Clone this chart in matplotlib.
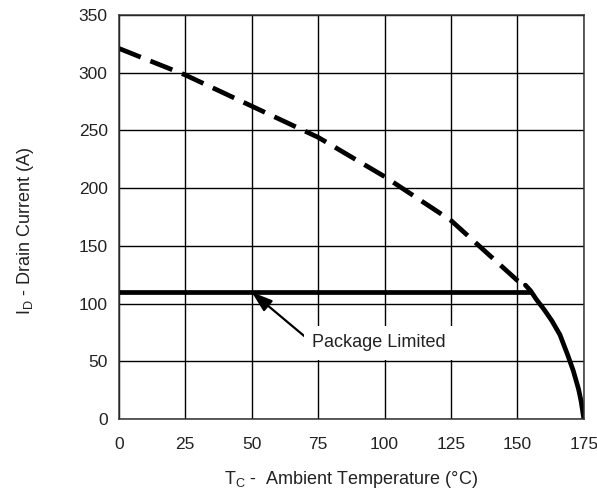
import numpy as np
import matplotlib.pyplot as plt

plt.rcParams['font.family'] = ['Liberation Sans', 'DejaVu Sans']
plt.rcParams['mathtext.fontset'] = 'custom'
plt.rcParams['mathtext.rm'] = 'Liberation Sans'

# silicon limited (dashed)
temp_si = [0, 25, 50, 75, 100, 125, 150, 153]
curr_si = [321, 298, 271, 244, 210, 172, 120, 116]

# derating tail (solid)
temp_tail = [153, 155, 157, 160, 163, 166, 169, 171, 173, 174, 174.6, 175]
curr_tail = [116, 111, 104, 95, 85, 73, 55, 42, 26, 15, 6, 0]

# package limit
temp_pkg = [0, 155]
curr_pkg = [110, 110]

x_ticks = [0, 25, 50, 75, 100, 125, 150, 175]
y_ticks = [0, 50, 100, 150, 200, 250, 300, 350]

fig = plt.figure(figsize=(5.97, 4.96), dpi=100)
ax = fig.add_axes([0.199, 0.155, 0.779, 0.815])

ax.plot(temp_si, curr_si, color='black', lw=3.4, dashes=(5, 2.2), dash_capstyle='butt')
ax.plot(temp_tail, curr_tail, color='black', lw=3.4, solid_capstyle='round')
ax.plot(temp_pkg, curr_pkg, color='black', lw=3.4, solid_capstyle='butt')

ax.set_xlim(0, 175)
ax.set_ylim(0, 350)
ax.set_xticks(x_ticks)
ax.set_yticks(y_ticks)
ax.grid(True, color='black', lw=1.0)
ax.set_axisbelow(True)
ax.tick_params(length=0, labelsize=12.5, colors='#222222')
ax.tick_params(axis='x', pad=13)
ax.tick_params(axis='y', pad=8)
for s in ax.spines.values():
    s.set_linewidth(1.1)
    s.set_color('#333333')

ax.annotate('Package Limited', xy=(50, 110), xytext=(98, 66),
            fontsize=13, ha='center', va='center', color='#222222',
            bbox=dict(boxstyle='square,pad=0.45', fc='white', ec='none'),
            arrowprops=dict(arrowstyle='-|>,head_length=0.9,head_width=0.3',
                            color='black', lw=1.6,
                            mutation_scale=14, shrinkA=0, shrinkB=0,
                            relpos=(0.0, 0.5)))

ax.set_xlabel(r'T$_\mathrm{C}$ -  Ambient Temperature (°C)', fontsize=13,
              labelpad=12, color='#222222')
ax.set_ylabel(r'I$_\mathrm{D}$ - Drain Current (A)', fontsize=13, color='#222222')
ax.yaxis.set_label_coords(-0.178, 0.466)

fig.savefig('out.png', dpi=100)
